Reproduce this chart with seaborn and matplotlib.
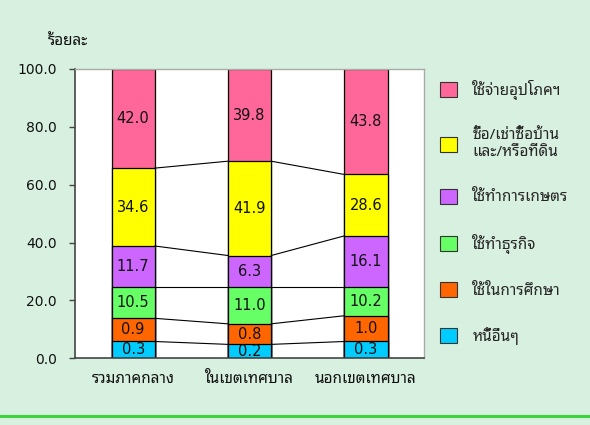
import matplotlib
matplotlib.use("Agg")
import matplotlib.pyplot as plt
from matplotlib.patches import Patch
import numpy as np
import pandas as pd
import seaborn as sns

# categories (x axis)
areas = ["รวมภาคกลาง", "ในเขตเทศบาล", "นอกเขตเทศบาล"]

# debt purposes, bottom of the stack first
purposes = ["หนี้อื่นๆ", "ใช้ในการศึกษา", "ใช้ทำธุรกิจ", "ใช้ทำการเกษตร",
            "ซื้อ/เช่าซื้อบ้าน\nและ/หรือที่ดิน", "ใช้จ่ายอุปโภคฯ"]
colors = ["#00CCFF", "#FF6600", "#66FF66", "#CC66FF", "#FFFF00", "#FF6699"]

# segment heights as drawn in the picture (bottom to top), per area
seg_total = [5.8, 8.0, 10.7, 14.3, 26.9, 34.3]
seg_muni = [4.8, 7.1, 12.6, 11.0, 32.6, 31.9]
seg_rural = [5.8, 8.9, 9.8, 17.8, 21.2, 36.5]

# printed percentages (bottom to top)
lab_total = ["0.3", "0.9", "10.5", "11.7", "34.6", "42.0"]
lab_muni = ["0.2", "0.8", "11.0", "6.3", "41.9", "39.8"]
lab_rural = ["0.3", "1.0", "10.2", "16.1", "28.6", "43.8"]

yticks = [0, 20, 40, 60, 80, 100]

bg = "#D8F0E0"
sns.set_theme(style="white", rc={"figure.facecolor": bg})
# Thai font first so that tone marks sit on their base letters
plt.rcParams["font.family"] = ["Noto Sans Thai Looped", "DejaVu Sans"]
num_font = ["DejaVu Sans"]

segs = np.array([seg_total, seg_muni, seg_rural])   # area x purpose
labels = [lab_total, lab_muni, lab_rural]
tops = segs.cumsum(axis=1)
bottoms = tops - segs

fig = plt.figure(figsize=(5.9, 4.25), dpi=100)
ax = fig.add_axes([0.127, 0.157, 0.592, 0.681])
ax.set_facecolor("white")

bar_w = 0.37
# draw the cumulative stacks from the top layer down so each covers the next
for j in range(len(purposes) - 1, -1, -1):
    df = pd.DataFrame({"area": areas, "top": tops[:, j]})
    sns.barplot(data=df, x="area", y="top", color=colors[j], width=bar_w,
                edgecolor="black", linewidth=0.9, saturation=1, ax=ax)

# series lines joining the segment tops between neighbouring bars
for j in range(len(purposes) - 1):
    for i in range(len(areas) - 1):
        ax.plot([i + bar_w / 2, i + 1 - bar_w / 2], [tops[i, j], tops[i + 1, j]],
                color="black", lw=0.8, zorder=1)

# value labels
for i in range(len(areas)):
    for j in range(len(purposes)):
        ax.text(i, (bottoms[i, j] + tops[i, j]) / 2, labels[i][j], family=num_font,
                ha="center", va="center", fontsize=10.5, color="#111111")

ax.set_xlim(-0.5, 2.5)
ax.set_ylim(0, 100)
ax.set_yticks(yticks)
ax.set_yticklabels([f"{v:.1f}" for v in yticks], family=num_font)
ax.set_xlabel("")
ax.set_ylabel("")
ax.tick_params(axis="y", left=True, length=4, width=1, color="#444444",
               labelsize=10, pad=9, labelcolor="#111111")
ax.tick_params(axis="x", bottom=False, labelsize=11, pad=4, labelcolor="#111111")
for side in ["left", "bottom"]:
    ax.spines[side].set_color("#444444")
    ax.spines[side].set_linewidth(1.2)
for side in ["top", "right"]:
    ax.spines[side].set_color("#AAAAAA")
    ax.spines[side].set_linewidth(1.0)

fig.text(0.081, 0.9, "ร้อยละ", fontsize=11, color="#111111", va="center")

handles = [Patch(facecolor=colors[j], edgecolor="#333333", linewidth=0.8)
           for j in range(len(purposes) - 1, -1, -1)]
fig.legend(handles, purposes[::-1], loc="upper left",
           bbox_to_anchor=(0.745, 0.812), frameon=False, fontsize=11,
           handlelength=1.15, handleheight=1.15, handletextpad=1.0,
           labelspacing=1.85, borderpad=0, borderaxespad=0)

# green rule near the bottom edge
fig.add_artist(plt.Line2D([0, 1], [0.021, 0.021], color="#3CD43C", lw=2.2))

fig.savefig("out.png", dpi=100, facecolor=bg)
